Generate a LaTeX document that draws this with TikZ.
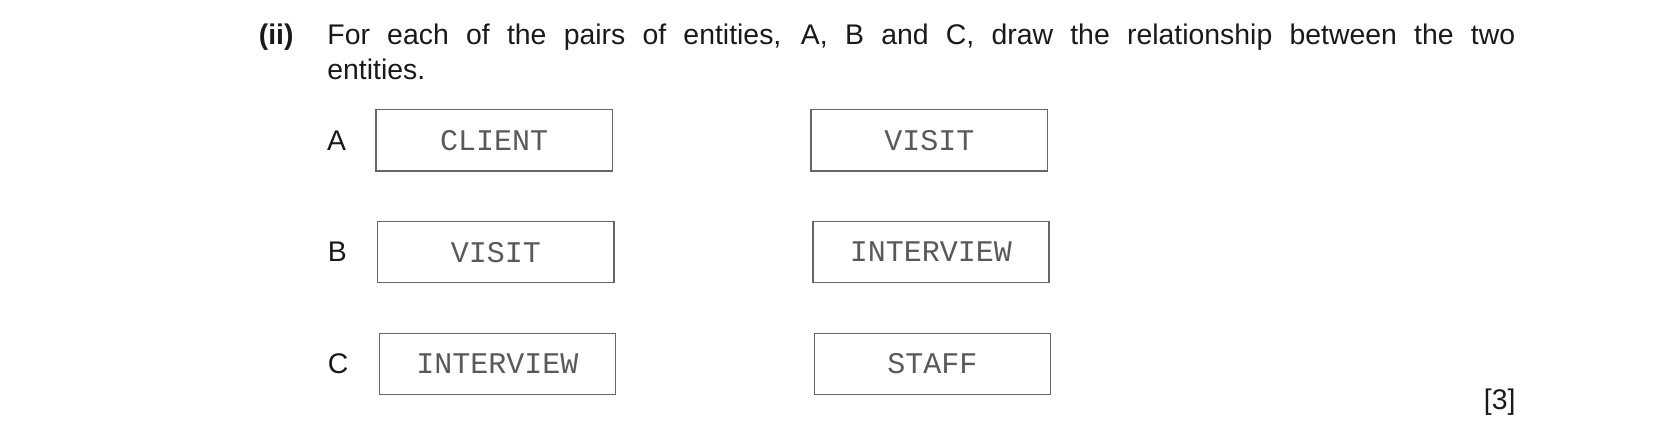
\documentclass[tikz,border=0pt]{standalone}
\usepackage{fontspec}
\setmainfont{Liberation Sans}
\setmonofont{Liberation Mono}
\begin{document}
\begin{tikzpicture}[x=0.5274pt,y=-0.5274pt]
\tikzset{
  qtext/.style={inner sep=0pt, text=black!90, font=\fontsize{14.2}{17.4}\selectfont},
  entity/.style={draw=black!60, line width=0.75pt, minimum width=118.1pt, minimum height=30.6pt,
    inner sep=0pt, text=black!65, font=\fontsize{15}{17}\selectfont\ttfamily}
}
\useasboundingbox (0,0) rectangle (1568,415.2);

% question text
\node [qtext, font=\fontsize{14.2}{17.4}\selectfont\bfseries, anchor=base west] (part) at (245,42) {(ii)};
\node [qtext, anchor=base west] (line1) at (310,42) {\makebox[593.9pt][s]{For each of the pairs of entities, A, B and C, draw the relationship between the two}};
\node [qtext, anchor=base west] (line2) at (310,75) {entities.};

% pairs of entities
\foreach \lab/\ea/\eb/\y/\dx in {A/CLIENT/VISIT/133/0, B/VISIT/INTERVIEW/239/1.5, C/INTERVIEW/STAFF/345/3}
{
  \node [qtext] (lab\lab) at (319+\dx/2,\y) {\lab};
  \node [entity] (left\lab) at (468.5+\dx,\y) {\ea};
  \node [entity] (right\lab) at (881+\dx,\y) {\eb};
}

\node [qtext, anchor=east] (marks) at (1437,381) {[3]};
\end{tikzpicture}
\end{document}
